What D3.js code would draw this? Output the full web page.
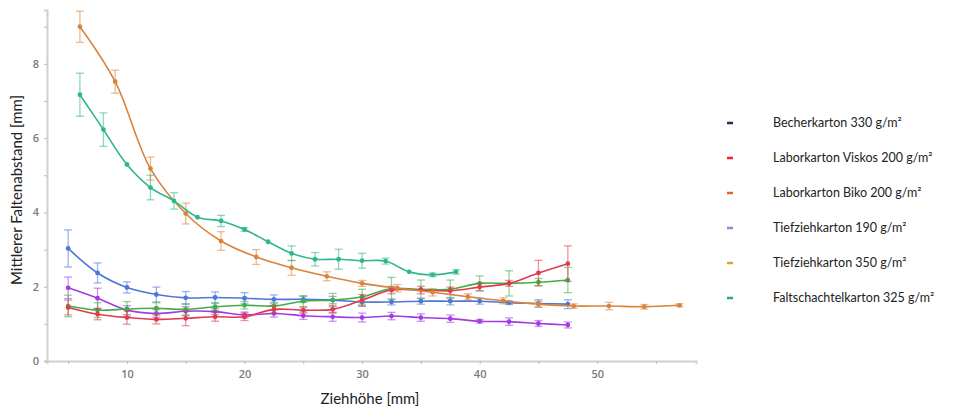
<!DOCTYPE html>
<html>
<head>
<meta charset="utf-8">
<script src="https://cdn.jsdelivr.net/npm/d3@7"></script>
<style>
  body { margin: 0; background: #fff; }
  .tick text { font-family: "Open Sans", sans-serif; font-size: 11px; font-weight: 600; fill: #7a7a7a; }
</style>
</head>
<body>
<div id="chart"></div>
<script>
// Ziehhöhe [mm] values per series
var xBlue   = [5, 7.5, 10, 12.5, 15, 17.5, 20, 22.5, 25, 27.5, 30, 32.5, 35, 37.5, 40, 42.5, 45, 47.5];
var xOrange = [6, 9, 12, 15, 18, 21, 24, 27, 30, 33, 36, 39, 42, 45, 48, 51, 54, 57];
var xTeal   = [6, 8, 10, 12, 14, 16, 18, 20, 22, 24, 26, 28, 30, 32, 34, 36, 38];

// mean fold spacing [mm]
var yBlue   = [3.03, 2.37, 1.98, 1.79, 1.70, 1.71, 1.69, 1.66, 1.66, 1.64, 1.59, 1.59, 1.61, 1.61, 1.61, 1.57, 1.55, 1.53];
var yPurple = [1.97, 1.69, 1.37, 1.28, 1.34, 1.33, 1.24, 1.28, 1.22, 1.19, 1.17, 1.21, 1.17, 1.14, 1.07, 1.06, 1.01, 0.97];
var yGreen  = [1.48, 1.37, 1.40, 1.42, 1.39, 1.46, 1.50, 1.48, 1.61, 1.64, 1.73, 1.95, 1.93, 1.93, 2.09, 2.09, 2.12, 2.18];
var yRed    = [1.44, 1.26, 1.17, 1.12, 1.15, 1.19, 1.19, 1.39, 1.37, 1.39, 1.64, 1.91, 1.91, 1.89, 1.99, 2.09, 2.37, 2.62];
var yOrange = [9.0, 7.52, 5.18, 3.97, 3.23, 2.80, 2.51, 2.28, 2.09, 1.96, 1.85, 1.73, 1.62, 1.53, 1.48, 1.48, 1.46, 1.50];
var yTeal   = [7.17, 6.23, 5.29, 4.67, 4.31, 3.87, 3.77, 3.54, 3.21, 2.90, 2.74, 2.74, 2.70, 2.69, 2.40, 2.32, 2.40];

// standard deviations (error bars)
var eBlue   = [0.5, 0.27, 0.15, 0.2, 0.17, 0.15, 0.15, 0.12, 0.08, 0.1, 0.12, 0.08, 0.08, 0.1, 0.08, 0.05, 0.1, 0.12];
var ePurple = [0.29, 0.27, 0.12, 0.1, 0.12, 0.08, 0.08, 0.1, 0.1, 0.12, 0.12, 0.1, 0.1, 0.1, 0.05, 0.1, 0.08, 0.08];
var eGreen  = [0.29, 0.2, 0.2, 0.15, 0.15, 0.1, 0.1, 0.1, 0.15, 0.18, 0.2, 0.3, 0.25, 0.25, 0.2, 0.34, 0.1, 0.34];
var eRed    = [0.2, 0.15, 0.18, 0.12, 0.2, 0.12, 0.1, 0.1, 0.08, 0.1, 0.15, 0.1, 0.1, 0.1, 0.1, 0.08, 0.34, 0.48];
var eOrange = [0.42, 0.31, 0.31, 0.28, 0.25, 0.2, 0.2, 0.12, 0.08, 0.1, 0.1, 0.08, 0.08, 0.08, 0.06, 0.1, 0.06, 0.04];
var eTeal   = [0.58, 0.45, 0, 0.33, 0.22, 0, 0.15, 0.05, 0, 0.2, 0.18, 0.27, 0.2, 0.08, 0, 0.05, 0.06];

var legendLabels = ["Becherkarton 330 g/m²", "Laborkarton Viskos 200 g/m²", "Laborkarton Biko 200 g/m²",
                    "Tiefziehkarton 190 g/m²", "Tiefziehkarton 350 g/m²", "Faltschachtelkarton 325 g/m²"];
var legendColors = ["#1f2e5c", "#e8262d", "#e4652a", "#8d8fd6", "#d8a23a", "#1fb36b"];

var xTicks = [5, 10, 15, 20, 25, 30, 35, 40, 45, 50, 55];
var yTicks = [0, 1, 2, 3, 4, 5, 6, 7, 8, 9];

var series = [
  { x: xBlue,   y: yBlue,   e: eBlue,   color: "#4d76d9" },
  { x: xBlue,   y: yPurple, e: ePurple, color: "#a23be3" },
  { x: xBlue,   y: yGreen,  e: eGreen,  color: "#40ae44" },
  { x: xBlue,   y: yRed,    e: eRed,    color: "#e03b4c" },
  { x: xOrange, y: yOrange, e: eOrange, color: "#d9843c" },
  { x: xTeal,   y: yTeal,   e: eTeal,   color: "#2db78a" }
];

var svgWidth = 955, svgHeight = 410;

var svg = d3.select("#chart").append("svg")
  .attr("width", svgWidth)
  .attr("height", svgHeight);

var xScale = d3.scaleLinear().domain([3.2, 58.4]).range([47, 696]);
var yScale = d3.scaleLinear().domain([0, 9.45]).range([361, 10]);

// axes
var xAxis = d3.axisBottom(xScale).tickValues(xTicks).tickSize(3).tickPadding(6)
  .tickFormat(function(d) { return d % 10 === 0 ? d : ""; });
var yAxis = d3.axisLeft(yScale).tickValues(yTicks).tickSize(3).tickPadding(5)
  .tickFormat(function(d) { return d % 2 === 0 ? d : ""; });

var gx = svg.append("g").attr("transform", "translate(0,361)").call(xAxis);
var gy = svg.append("g").attr("transform", "translate(47,0)").call(yAxis);
[gx, gy].forEach(function(g) {
  g.select(".domain").attr("stroke", "#d0d0d0").attr("stroke-width", 2);
  g.selectAll(".tick line").attr("stroke", "#bbb");
});

// axis titles
svg.append("text")
  .attr("x", 370).attr("y", 404)
  .attr("text-anchor", "middle")
  .style("font-family", "Lato, sans-serif").style("font-size", "15px").style("fill", "#222")
  .text("Ziehhöhe [mm]");

svg.append("text")
  .attr("transform", "translate(22,190) rotate(-90)")
  .attr("text-anchor", "middle")
  .style("font-family", "Lato, sans-serif").style("font-size", "15px").style("fill", "#222")
  .text("Mittlerer Faltenabstand [mm]");

var line = d3.line()
  .x(function(d) { return xScale(d.x); })
  .y(function(d) { return yScale(d.y); })
  .curve(d3.curveCatmullRom.alpha(0.5));

series.forEach(function(s) {
  var pts = s.x.map(function(v, i) { return { x: v, y: s.y[i], e: s.e[i] }; });
  var g = svg.append("g");

  // error bars
  var eb = g.selectAll(".err").data(pts.filter(function(d) { return d.e > 0; })).enter().append("g")
    .attr("stroke", s.color).attr("stroke-opacity", 0.55).attr("stroke-width", 1.3);
  eb.append("line")
    .attr("x1", function(d) { return xScale(d.x); }).attr("x2", function(d) { return xScale(d.x); })
    .attr("y1", function(d) { return yScale(d.y - d.e); }).attr("y2", function(d) { return yScale(d.y + d.e); });
  eb.append("line")
    .attr("x1", function(d) { return xScale(d.x) - 4; }).attr("x2", function(d) { return xScale(d.x) + 4; })
    .attr("y1", function(d) { return yScale(d.y + d.e); }).attr("y2", function(d) { return yScale(d.y + d.e); });
  eb.append("line")
    .attr("x1", function(d) { return xScale(d.x) - 4; }).attr("x2", function(d) { return xScale(d.x) + 4; })
    .attr("y1", function(d) { return yScale(d.y - d.e); }).attr("y2", function(d) { return yScale(d.y - d.e); });

  g.append("path").datum(pts)
    .attr("fill", "none")
    .attr("stroke", s.color)
    .attr("stroke-width", 1.6)
    .attr("d", line);

  g.selectAll("circle").data(pts).enter().append("circle")
    .attr("cx", function(d) { return xScale(d.x); })
    .attr("cy", function(d) { return yScale(d.y); })
    .attr("r", 2.4)
    .attr("fill", s.color);
});

// legend
var legend = svg.append("g").attr("transform", "translate(727,123)");
legendLabels.forEach(function(lbl, i) {
  var row = legend.append("g").attr("transform", "translate(0," + (i * 35) + ")");
  row.append("line").attr("x1", 0).attr("x2", 6).attr("y1", 0).attr("y2", 0)
    .attr("stroke", legendColors[i]).attr("stroke-width", 2.5);
  row.append("text").attr("x", 46).attr("y", 0).attr("dy", "0.35em")
    .style("font-family", "Lato, sans-serif").style("font-size", "12.5px").style("fill", "#222")
    .text(lbl);
});
</script>
</body>
</html>
